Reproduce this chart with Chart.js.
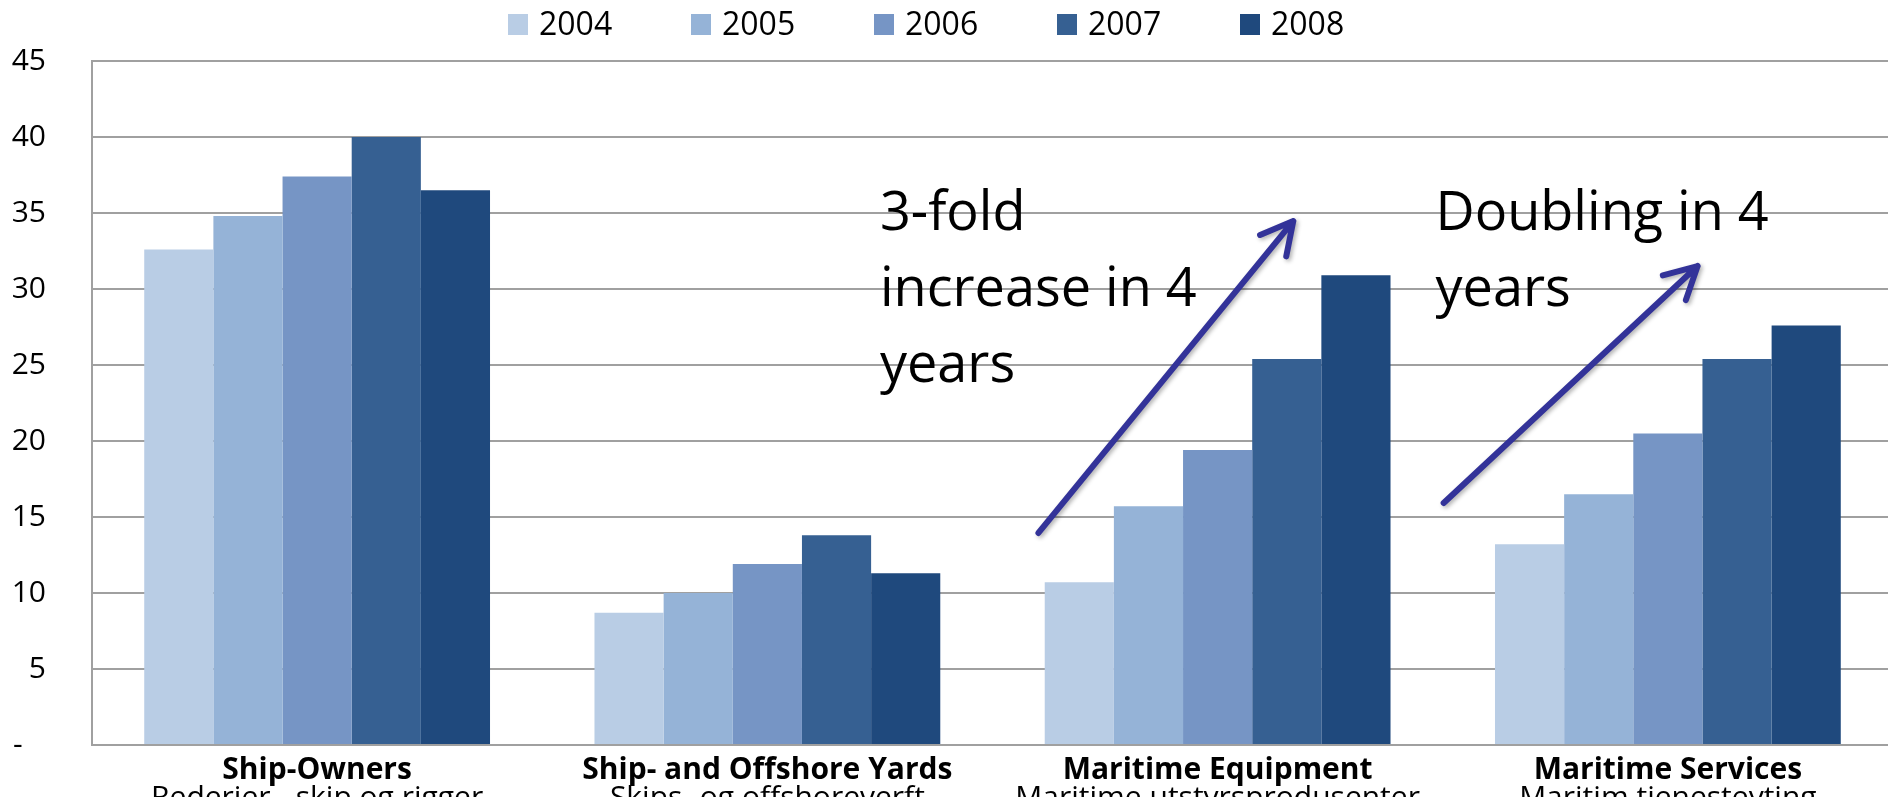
<!DOCTYPE html>
<html lang="en">
<head>
<meta charset="utf-8" />
<title>Maritime industry value creation 2004–2008</title>
<script src="https://cdn.jsdelivr.net/npm/chart.js@4.4.1/dist/chart.umd.min.js"></script>
<style>
  html, body { margin: 0; padding: 0; background: #fff; overflow: hidden; }
  #chart { display: block; }
</style>
</head>
<body>
<canvas id="chart" width="1893" height="797"></canvas>
<script>
"use strict";

// ── Data ──────────────────────────────────────────────────────────────────
const CATEGORIES = [
  "Ship-Owners",
  "Ship- and Offshore Yards",
  "Maritime Equipment",
  "Maritime Services",
];
const CATEGORIES_NO = [
  "Rederier - skip og rigger",
  "Skips- og offshoreverft",
  "Maritime utstyrsprodusenter",
  "Maritim tjenesteyting",
];
const YEARS = ["2004", "2005", "2006", "2007", "2008"];

const VALUES_2004 = [32.6, 8.7, 10.7, 13.2];
const VALUES_2005 = [34.8, 10.0, 15.7, 16.5];
const VALUES_2006 = [37.4, 11.9, 19.4, 20.5];
const VALUES_2007 = [40.0, 13.8, 25.4, 25.4];
const VALUES_2008 = [36.5, 11.3, 30.9, 27.6];

const Y_TICK_LABELS = ["-", "5", "10", "15", "20", "25", "30", "35", "40", "45"];

const COLORS = ["#B9CDE5", "#95B3D7", "#7695C5", "#366092", "#1F497D"];
const GRID = "#A0A0A0";
const ARROW = "#333399";

// annotations, placed in data units (category index, value)
const NOTES = [
  { lines: ["3-fold", "increase in 4", "years"], x: 1.25, y: 33.9 },
  { lines: ["Doubling in 4", "years"], x: 2.484, y: 33.9 },
];
const ARROWS = [
  { from: [1.602, 13.95], to: [2.168, 34.47] },
  { from: [2.502, 15.92], to: [3.066, 31.51] },
];

Chart.defaults.font.family = "'Open Sans', sans-serif";
Chart.defaults.color = "#000";

// ── Legend (drawn by hand to get Excel-like spacing) ──────────────────────
const legendPlugin = {
  id: "yearLegend",
  afterDraw(chart) {
    const { ctx } = chart;
    ctx.save();
    ctx.font = "32px 'Open Sans'";
    ctx.textAlign = "left";
    ctx.textBaseline = "alphabetic";
    chart.data.datasets.forEach((ds, i) => {
      const left = 508 + i * 183;
      ctx.fillStyle = ds.backgroundColor;
      ctx.fillRect(left, 14, 20, 21);
      ctx.fillStyle = "#000";
      ctx.fillText(ds.label, left + 31, 35);
    });
    ctx.restore();
  },
};

// ── Second (Norwegian) line of the category labels ────────────────────────
const subLabelPlugin = {
  id: "subLabels",
  afterDraw(chart) {
    const { ctx, scales: { x } } = chart;
    ctx.save();
    ctx.font = "30px 'Open Sans'";
    ctx.textAlign = "center";
    ctx.textBaseline = "alphabetic";
    ctx.fillStyle = "#000";
    CATEGORIES_NO.forEach((label, i) => {
      ctx.fillText(label, x.getPixelForTick(i), x.top + 62);
    });
    ctx.restore();
  },
};

// ── Growth notes and arrows ───────────────────────────────────────────────
function drawArrow(ctx, x0, y0, x1, y1) {
  const ang = Math.atan2(y0 - y1, x0 - x1);
  const head = 36;
  const spread = (28 * Math.PI) / 180;
  ctx.beginPath();
  ctx.moveTo(x0, y0);
  ctx.lineTo(x1, y1);
  ctx.moveTo(x1 + head * Math.cos(ang + spread), y1 + head * Math.sin(ang + spread));
  ctx.lineTo(x1, y1);
  ctx.lineTo(x1 + head * Math.cos(ang - spread), y1 + head * Math.sin(ang - spread));
  ctx.stroke();
}

const notesPlugin = {
  id: "notes",
  afterDatasetsDraw(chart) {
    const { ctx, scales: { x, y } } = chart;
    ctx.save();
    ctx.font = "54px 'Open Sans'";
    ctx.textAlign = "left";
    ctx.textBaseline = "alphabetic";
    ctx.fillStyle = "#000";
    NOTES.forEach((note) => {
      note.lines.forEach((line, i) => {
        ctx.fillText(line, x.getPixelForValue(note.x), y.getPixelForValue(note.y - 5 * i));
      });
    });

    ctx.strokeStyle = ARROW;
    ctx.lineWidth = 6;
    ctx.lineCap = "round";
    ctx.lineJoin = "round";
    ctx.shadowColor = "rgba(0,0,0,0.3)";
    ctx.shadowBlur = 4;
    ctx.shadowOffsetX = 2;
    ctx.shadowOffsetY = 2;
    ARROWS.forEach((a) => {
      drawArrow(
        ctx,
        x.getPixelForValue(a.from[0]), y.getPixelForValue(a.from[1]),
        x.getPixelForValue(a.to[0]), y.getPixelForValue(a.to[1]),
      );
    });
    ctx.restore();
  },
};

// ── Chart ─────────────────────────────────────────────────────────────────
const SERIES = [VALUES_2004, VALUES_2005, VALUES_2006, VALUES_2007, VALUES_2008];

new Chart(document.getElementById("chart"), {
  type: "bar",
  data: {
    labels: CATEGORIES,
    datasets: YEARS.map((year, i) => ({
      label: year,
      data: SERIES[i],
      backgroundColor: COLORS[i],
      borderWidth: 0,
      categoryPercentage: 0.768,
      barPercentage: 1,
    })),
  },
  options: {
    responsive: false,
    animation: false,
    layout: { padding: { top: 61, left: 0, right: 0, bottom: 0 } },
    plugins: {
      legend: { display: false },
      tooltip: { enabled: false },
    },
    scales: {
      x: {
        grid: { display: false, drawTicks: false },
        border: { display: true, color: GRID, width: 2 },
        ticks: {
          padding: 7,
          autoSkip: false,
          maxRotation: 0,
          font: { size: 30, weight: "bold" },
        },
        afterFit: (scale) => { scale.height = 52; },
      },
      y: {
        min: 0,
        max: 45,
        // invisible tick marks keep the labels away from the axis line
        grid: { color: GRID, lineWidth: 2, drawTicks: true, tickLength: 46, tickColor: "rgba(0,0,0,0)" },
        border: { color: GRID, width: 2 },
        ticks: {
          stepSize: 5,
          padding: 0,
          font: { size: 30 },
          callback: (value, index) => {
            const label = Y_TICK_LABELS[index];
            return label === "-" ? "-   " : label;
          },
        },
        afterFit: (scale) => { scale.width = 92; },
      },
    },
  },
  plugins: [legendPlugin, subLabelPlugin, notesPlugin],
});
</script>
</body>
</html>
